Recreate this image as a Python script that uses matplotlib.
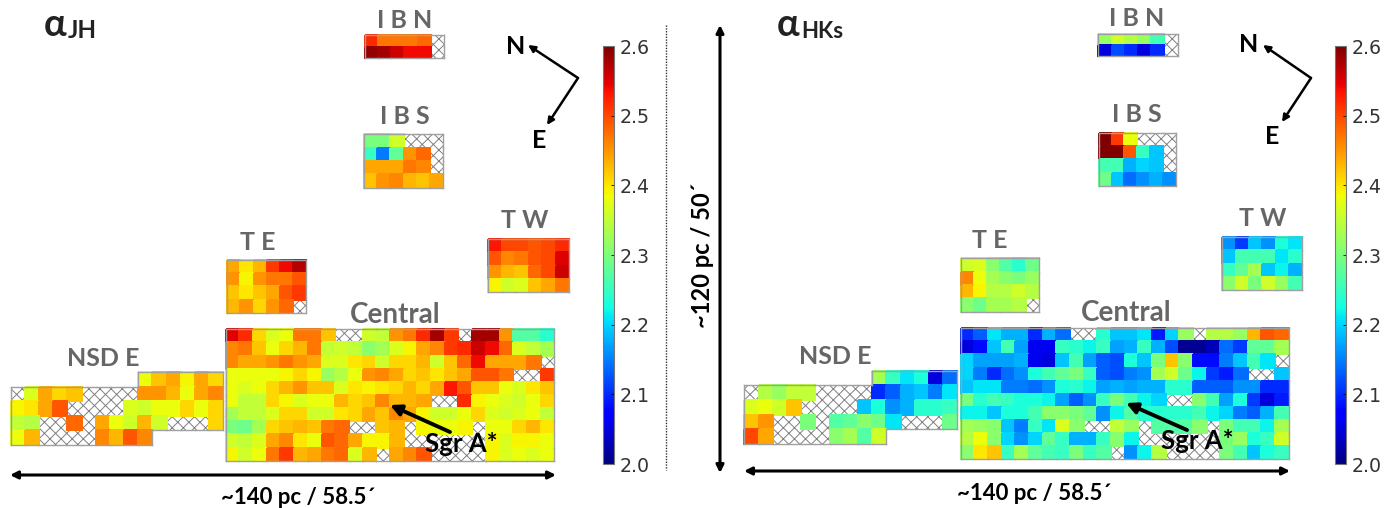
import numpy as np
import matplotlib
matplotlib.use("Agg")
import matplotlib.pyplot as plt
from matplotlib.cm import ScalarMappable
from matplotlib.colors import Normalize
from matplotlib.patches import Rectangle

########
# Data #
########
n = np.nan  # hatched cell (no measurement)
o = np.inf  # outside of the field

central_jh = [
    [2.55, 2.52, 2.41, 2.37, 2.38, 2.47, 2.47, 2.42, n, n, 2.36, 2.35, 2.45, 2.47, 2.52, 2.58, 2.51, n, 2.58, 2.58, 2.45, 2.27, 2.27, 2.24],
    [2.46, 2.47, 2.42, 2.38, 2.41, 2.43, 2.47, 2.35, 2.36, 2.35, 2.31, 2.33, 2.37, 2.39, 2.44, 2.46, 2.51, 2.52, 2.56, 2.54, 2.48, 2.37, 2.35, 2.33],
    [2.46, 2.44, 2.44, 2.45, 2.47, 2.45, 2.44, 2.37, 2.37, 2.40, 2.41, 2.36, 2.41, 2.41, 2.43, 2.36, 2.42, 2.48, 2.54, 2.44, 2.44, 2.44, 2.47, n],
    [2.38, 2.38, 2.38, 2.38, 2.39, 2.41, 2.39, 2.32, 2.34, 2.38, 2.45, 2.46, 2.44, 2.41, 2.42, 2.40, 2.42, 2.44, 2.49, 2.49, 2.47, n, n, 2.51],
    [2.38, 2.37, 2.38, 2.41, 2.43, 2.45, 2.42, 2.42, 2.37, 2.40, 2.39, 2.40, 2.41, 2.43, 2.41, 2.44, 2.53, 2.49, 2.42, 2.42, 2.38, 2.37, 2.40, 2.42],
    [2.38, 2.35, 2.35, 2.41, 2.39, 2.37, 2.38, 2.38, 2.43, 2.41, 2.42, 2.46, 2.43, 2.43, 2.44, n, n, 2.52, 2.39, 2.38, 2.37, 2.36, 2.38, 2.41],
    [2.33, 2.35, 2.35, 2.37, 2.41, 2.41, 2.36, 2.36, 2.40, 2.41, 2.44, 2.42, 2.46, 2.44, 2.39, 2.36, 2.36, 2.38, 2.41, 2.37, 2.36, 2.37, 2.38, 2.35],
    [2.30, 2.29, 2.33, 2.41, 2.42, 2.43, 2.42, 2.47, 2.48, n, n, 2.42, 2.43, n, 2.39, 2.38, 2.38, 2.39, n, 2.38, 2.38, 2.41, 2.43, 2.40],
    [2.36, 2.35, 2.37, 2.44, 2.46, 2.40, 2.38, 2.49, 2.48, 2.44, 2.39, 2.39, 2.43, n, n, n, n, n, n, 2.39, 2.37, 2.39, 2.39, 2.38],
    [2.39, 2.36, 2.38, 2.47, 2.51, 2.43, 2.44, 2.47, 2.48, 2.37, 2.43, n, 2.44, 2.46, 2.49, n, n, n, n, 2.39, 2.37, 2.38, 2.37, 2.38],
]
central_hk = [
    [2.10, 2.13, 2.21, 2.18, 2.18, 2.10, 2.18, 2.14, n, n, 2.24, 2.19, 2.19, 2.21, 2.09, 2.20, 2.32, n, 2.34, 2.34, 2.32, 2.43, 2.49, 2.48],
    [2.05, 2.08, 2.19, 2.26, 2.17, 2.06, 2.06, 2.25, 2.24, 2.22, 2.25, 2.17, 2.18, 2.25, 2.18, 2.12, 2.01, 2.01, 2.03, 2.14, 2.11, 2.28, 2.28, 2.33],
    [2.20, 2.17, 2.17, 2.17, 2.18, 2.06, 2.05, 2.19, 2.26, 2.17, 2.13, 2.12, 2.23, 2.19, 2.30, 2.42, 2.31, 2.08, 2.08, 2.15, 2.19, 2.26, 2.21, n],
    [2.20, 2.15, 2.10, 2.14, 2.16, 2.23, 2.26, 2.28, 2.30, 2.25, 2.13, 2.12, 2.15, 2.16, 2.33, 2.36, 2.29, 2.22, 2.11, 2.09, 2.14, n, n, 2.19],
    [2.19, 2.21, 2.21, 2.15, 2.15, 2.14, 2.16, 2.23, 2.24, 2.22, 2.17, 2.18, 2.17, 2.18, 2.18, 2.24, 2.24, 2.13, 2.13, 2.13, 2.16, 2.16, 2.10, 2.10],
    [2.30, 2.24, 2.26, 2.25, 2.23, 2.23, 2.22, 2.17, 2.13, 2.16, 2.25, 2.30, 2.26, 2.22, 2.20, n, n, 2.31, 2.26, 2.17, 2.23, 2.11, 2.05, 2.09],
    [2.22, 2.22, 2.19, 2.23, 2.23, 2.26, 2.31, 2.31, 2.30, 2.28, 2.16, 2.22, 2.27, 2.24, 2.24, 2.24, 2.24, 2.26, 2.22, 2.20, 2.15, 2.13, 2.18, 2.26],
    [2.33, 2.32, 2.31, 2.19, 2.15, 2.25, 2.21, 2.37, 2.31, n, n, 2.35, 2.32, n, 2.27, 2.27, 2.27, 2.31, n, 2.30, 2.26, 2.26, 2.22, 2.33],
    [2.34, 2.38, 2.31, 2.20, 2.16, 2.20, 2.28, 2.25, 2.18, 2.18, 2.25, 2.31, 2.22, n, n, n, n, n, n, 2.30, 2.32, 2.23, 2.25, 2.36],
    [2.31, 2.40, 2.42, 2.25, 2.33, 2.28, 2.26, 2.25, 2.30, 2.25, 2.27, n, 2.16, 2.22, 2.34, n, n, n, n, 2.30, 2.26, 2.19, 2.23, 2.25],
]
nsd_jh = [
    [o, o, o, o, o, o, o, o, o, 2.38, 2.42, 2.44, 2.39, 2.44, 2.41],
    [n, 2.37, 2.44, 2.41, 2.42, n, n, n, n, 2.45, 2.45, 2.43, 2.38, 2.44, 2.46],
    [2.39, 2.40, 2.44, 2.49, n, n, n, n, 2.37, 2.36, 2.38, 2.38, 2.41, 2.38, 2.41],
    [2.35, 2.34, n, n, 2.48, n, 2.44, 2.38, 2.36, 2.43, 2.36, n, n, n, 2.41],
    [2.38, 2.43, n, n, n, n, 2.46, 2.43, 2.49, 2.46, o, o, o, o, o],
]
nsd_hk = [
    [o, o, o, o, o, o, o, o, o, 2.33, 2.25, 2.21, 2.23, 2.05, 2.14],
    [n, 2.34, 2.32, 2.35, 2.35, n, n, n, n, 2.10, 2.13, 2.18, 2.19, 2.15, 2.21],
    [2.37, 2.38, 2.36, 2.42, n, n, n, n, 2.19, 2.23, 2.16, 2.18, 2.24, 2.24, 2.25],
    [2.42, 2.45, n, n, 2.30, n, 2.27, 2.28, 2.31, 2.29, 2.21, n, n, n, 2.29],
    [2.50, 2.44, n, n, n, n, 2.31, 2.33, 2.27, 2.36, o, o, o, o, o],
]
ibn_jh = [[2.52, 2.47, 2.47, 2.47, 2.48, n],
          [2.59, 2.58, 2.56, 2.54, 2.54, n]]
ibn_hk = [[2.32, 2.36, 2.34, 2.32, 2.26, n],
          [2.05, 2.12, 2.10, 2.05, 2.10, n]]
ibs_jh = [[2.30, 2.30, 2.36, n, n, n],
          [2.25, 2.15, 2.28, 2.45, 2.48, n],
          [2.44, 2.44, 2.44, 2.47, 2.46, n],
          [2.42, 2.45, 2.46, 2.43, 2.42, 2.44]]
ibs_hk = [[2.60, 2.51, 2.38, n, n, n],
          [2.60, 2.60, 2.49, 2.25, 2.19, n],
          [2.26, 2.26, 2.18, 2.20, 2.19, n],
          [2.29, 2.19, 2.14, 2.16, 2.18, 2.16]]
te_jh = [[2.44, 2.40, 2.43, 2.51, 2.54, 2.57],
         [2.45, 2.39, 2.45, 2.47, 2.47, 2.49],
         [2.42, 2.40, 2.42, 2.44, 2.49, 2.51],
         [2.43, 2.45, 2.41, 2.45, 2.48, n]]
te_hk = [[2.36, 2.37, 2.31, 2.27, 2.24, 2.29],
         [2.46, 2.38, 2.33, 2.31, 2.30, 2.32],
         [2.43, 2.39, 2.34, 2.34, 2.36, 2.34],
         [2.31, 2.29, 2.33, 2.33, 2.34, n]]
tw_jh = [[2.53, 2.50, 2.50, 2.49, 2.50, 2.52],
         [2.49, 2.46, 2.47, 2.49, 2.50, 2.55],
         [2.45, 2.43, 2.42, 2.48, 2.50, 2.56],
         [2.39, 2.36, 2.37, 2.42, 2.44, 2.47]]
tw_hk = [[2.16, 2.11, 2.19, 2.16, 2.23, 2.21],
         [2.19, 2.26, 2.26, 2.26, 2.21, 2.24],
         [2.25, 2.28, 2.33, 2.19, 2.22, 2.18],
         [2.31, 2.36, 2.30, 2.36, 2.32, 2.26]]

colorbar_ticks = [2.0, 2.1, 2.2, 2.3, 2.4, 2.5, 2.6]

############
# Fonction #
############
W, H = 1392, 508
norm = Normalize(2.0, 2.6)
EDGE = "#a0a0a0"
LABEL = "#666666"

plt.rcParams["font.family"] = ["Lato", "DejaVu Sans"]
plt.rcParams["hatch.linewidth"] = 0.7

fig = plt.figure(figsize=(W/100, H/100), dpi=100)
ax = fig.add_axes([0, 0, 1, 1])
ax.set_xlim(0, W)
ax.set_ylim(H, 0)
ax.axis("off")


def block(values, x0, x1, y0, y1):
    """grille de cellules entre les pixels x0, x1 et y0, y1"""
    v = np.array(values, dtype=float)
    rows, cols = v.shape
    xs = np.linspace(x0, x1, cols+1)
    ys = np.linspace(y0, y1, rows+1)
    ax.pcolormesh(xs, ys, np.ma.masked_invalid(v), cmap="jet", norm=norm, zorder=2,
                  edgecolors="face", linewidth=0.2)
    inside = ~np.isinf(v)
    for i in range(rows):
        for j in range(cols):
            if np.isnan(v[i, j]):
                ax.add_patch(Rectangle((xs[j], ys[i]), xs[j+1]-xs[j], ys[i+1]-ys[i],
                                       facecolor="white", edgecolor="#808080", hatch="xxx",
                                       lw=0, zorder=1))
    # contour du champ
    p = np.pad(inside, 1)
    for i in range(rows):
        for j in range(cols):
            if not inside[i, j]:
                continue
            if not p[i, j+1]:
                ax.plot([xs[j], xs[j+1]], [ys[i], ys[i]], color=EDGE, lw=1, zorder=3)
            if not p[i+2, j+1]:
                ax.plot([xs[j], xs[j+1]], [ys[i+1], ys[i+1]], color=EDGE, lw=1, zorder=3)
            if not p[i+1, j]:
                ax.plot([xs[j], xs[j]], [ys[i], ys[i+1]], color=EDGE, lw=1, zorder=3)
            if not p[i+1, j+2]:
                ax.plot([xs[j+1], xs[j+1]], [ys[i], ys[i+1]], color=EDGE, lw=1, zorder=3)


def label(x, y, s, size=18, color=LABEL, **kw):
    ax.text(x, y, s, fontsize=size, color=color, fontweight="bold",
            ha="center", va="center", zorder=6, **kw)


def arrow(start, end, style="-|>", lw=2.2, scale=11):
    ax.annotate("", xy=end, xytext=start, zorder=5,
                arrowprops=dict(arrowstyle=style, color="black", lw=lw,
                                mutation_scale=scale, shrinkA=0, shrinkB=0))


def colorbar(x0, x1, y0, y1):
    cax = fig.add_axes([x0/W, 1-y1/H, (x1-x0)/W, (y1-y0)/H])
    cb = fig.colorbar(ScalarMappable(norm=norm, cmap="jet"), cax=cax)
    cb.set_ticks(colorbar_ticks)
    cb.ax.tick_params(labelsize=13.7, labelcolor="#333333", length=2, width=0.6,
                      direction="in", pad=4)
    for t in cb.ax.get_yticklabels():
        t.set_family("DejaVu Sans")
    cb.outline.set_edgecolor("#777777")
    cb.outline.set_linewidth(0.8)


#########
# Tracé #
#########
# panneau JH
block(central_jh, 225.7, 554.3, 329.3, 460.7)
block(nsd_jh, 10.7, 223.3, 372, 445)
block(ibn_jh, 364.7, 444, 35.3, 57.7)
block(ibs_jh, 364, 443, 134.3, 187.7)
block(te_jh, 227.3, 306.3, 259.7, 313)
block(tw_jh, 488, 569, 238.7, 292.3)

# panneau HKs
block(central_hk, 960.7, 1288.7, 328.3, 459)
block(nsd_hk, 744.3, 957.3, 370.7, 444)
block(ibn_hk, 1098.3, 1177.7, 34, 56.3)
block(ibs_hk, 1098.7, 1175.7, 133, 185.7)
block(te_hk, 961, 1039, 258.3, 311.7)
block(tw_hk, 1222.3, 1302.3, 237, 290.3)

colorbar(603, 613.7, 46, 464)
colorbar(1335, 1345.7, 46, 464)

# titres
ax.text(44, 36, "α", fontsize=27, fontweight="bold", color="#222222", va="baseline", zorder=6)
ax.text(68, 38, "JH", fontsize=17.5, fontweight="bold", color="#222222", va="baseline", zorder=6)
ax.text(777, 36, "α", fontsize=27, fontweight="bold", color="#222222", va="baseline", zorder=6)
ax.text(801, 38, "HKs", fontsize=16, fontweight="bold", color="#222222", va="baseline", zorder=6)

# noms des champs
field_names = ["I B N", "I B S", "T E", "T W", "Central", "NSD E"]
for pos, names in [([(405, 21), (405, 117), (258, 243), (525, 220), (395, 315), (103, 358)], field_names),
                   ([(1137, 18), (1137, 115), (990, 241), (1263, 219), (1126, 313), (835, 357)], field_names)]:
    for (x, y), s in zip(pos, names):
        label(x, y, s, size=20 if s == "Central" else 18)

# orientation
for cx, cy, nx, ny, ex, ey, nlx, nly, elx, ely in [
        (578, 78, 528, 45, 547, 125, 516, 47, 539, 140),
        (1311, 78, 1263, 45, 1282, 122, 1249, 45, 1272, 137)]:
    arrow((cx, cy), (nx, ny), lw=1.8, scale=10)
    arrow((cx, cy), (ex, ey), lw=1.8, scale=10)
    label(nlx, nly, "N", color="black")
    label(elx, ely, "E", color="black")

# Sgr A*
arrow((450, 432), (390, 405), lw=2.8, scale=16)
label(461, 444, "Sgr A*", color="black", size=18.5)
arrow((1187, 430), (1126, 403), lw=2.8, scale=16)
label(1197, 441, "Sgr A*", color="black", size=18.5)

# échelles
arrow((10, 475), (556, 475), style="<|-|>")
arrow((744, 471), (1290, 471), style="<|-|>")
arrow((720, 25), (720, 473), style="<|-|>")
label(298, 497, "~140 pc / 58.5´", color="black", size=16)
label(1034, 494, "~140 pc / 58.5´", color="black", size=16)
label(702, 255, "~120 pc / 50´", color="black", size=17, rotation=90)
ax.plot([666, 666], [25, 470], color="#333333", lw=1, ls=(0, (1, 1)))

fig.savefig("out.png", dpi=100)
